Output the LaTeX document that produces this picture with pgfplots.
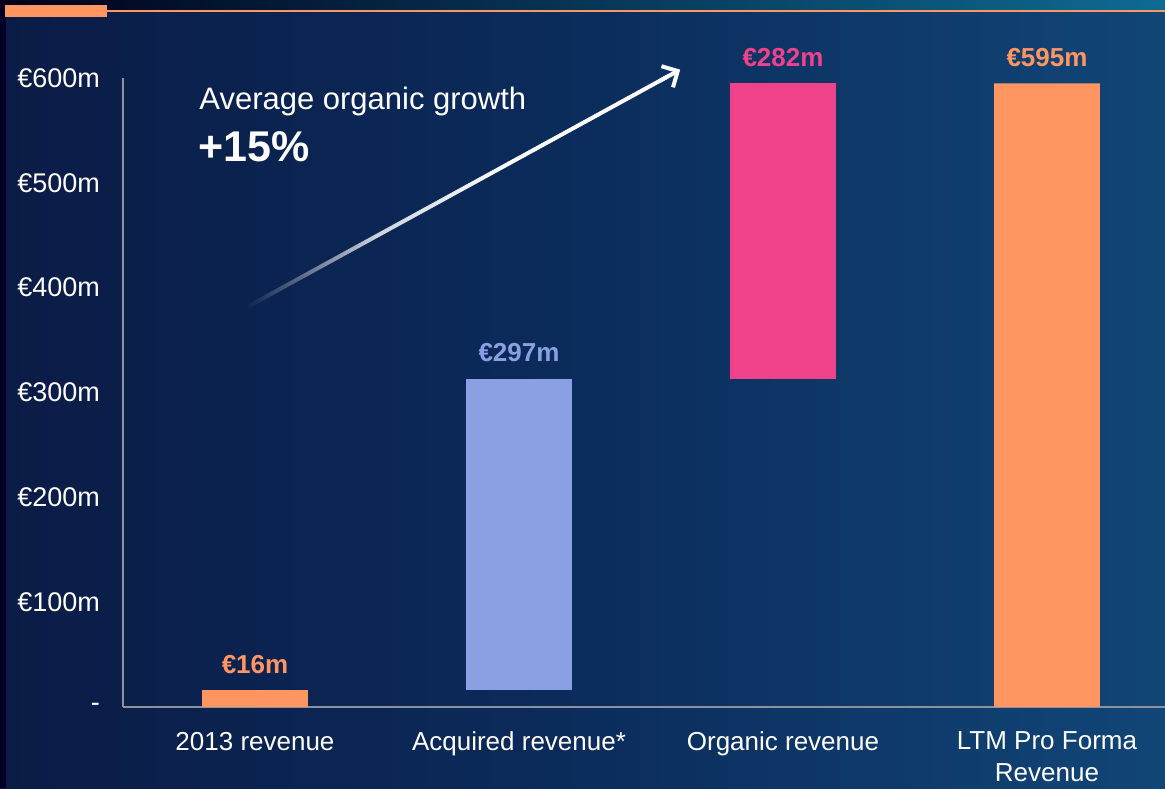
\documentclass[border=0pt]{standalone}
\usepackage{pgfplots}
\pgfplotsset{compat=1.18}
\usepackage{fontspec}
\setmainfont{Liberation Sans}
\usetikzlibrary{arrows.meta,calc}
\definecolor{barorange}{HTML}{FF9662}
\definecolor{barblue}{HTML}{8BA0E2}
\definecolor{barpink}{HTML}{F0428A}
\definecolor{bgleft}{HTML}{0B1B46}
\definecolor{bgmid}{HTML}{0B2C5C}
\definecolor{bgright}{HTML}{114677}
\definecolor{axisgray}{HTML}{8C929C}
\definecolor{tailbg}{HTML}{0C2350}
\begin{document}
\begin{tikzpicture}
\path[use as bounding box] (0,0) rectangle (582.5pt,394pt);
\clip (0,0) rectangle (582.5pt,394pt);
% background
\fill[left color=bgleft, right color=bgright, middle color=bgmid] (0,0) rectangle (582.5pt,394pt);
\fill[left color=black!90!blue, right color=bgright!80!cyan] (0,388.5pt) rectangle (582.5pt,394pt);
\fill[black!85!blue] (0,0) rectangle (3pt,388.5pt);
\draw[barorange, line width=0.6pt] (53pt,388.5pt) -- (582.5pt,388.5pt);
\fill[barorange] (2.5pt,385.5pt) rectangle (53.5pt,391.5pt);
% arrow (gradient shaft)
\begin{scope}[shift={(123.5pt,240.5pt)}, rotate=28.72]
  \shade[left color=tailbg, right color=white, middle color=white!80!tailbg] (0,-1pt) rectangle (150pt,1pt);
  \fill[white] (149.5pt,-1pt) rectangle (240pt,1pt);
  \draw[white, line width=2pt, -{Straight Barb[length=6pt,width=12pt,line width=2pt]}] (235pt,0) -- (247pt,0);
\end{scope}
\node[white, anchor=west, inner sep=0pt, font=\fontsize{15.5}{18}\selectfont] at (99.5pt,343.5pt) {Average organic growth};
\node[white, anchor=west, inner sep=0pt, font=\fontsize{21.5}{25}\selectfont\bfseries] at (99pt,320.5pt) {+15\%};
\begin{axis}[
  at={(61.5pt,40.5pt)}, anchor=south west,
  scale only axis, width=521pt, height=314.5pt,
  xmin=-0.5, xmax=3.447, ymin=0, ymax=600,
  axis x line=bottom, axis y line=left,
  axis line style={-, axisgray, line width=0.6pt},
  major tick length=0pt,
  ytick={0,100,200,300,400,500,600},
  yticklabels={-,€100m,€200m,€300m,€400m,€500m,€600m},
  xtick={0,1,2,3},
  xticklabels={2013 revenue,Acquired revenue*,Organic revenue,{LTM Pro Forma\\Revenue}},
  yticklabel style={white, font=\fontsize{13.5}{16}\selectfont, xshift=-8pt},
  xticklabel style={white, font=\fontsize{13}{15.6}\selectfont, align=center, yshift=-9pt},
  ybar stacked, bar width=0.4,
  clip=false,
]
\addplot[draw=none, fill=none] coordinates {(0,0) (1,16) (2,313) (3,0)};
\addplot[draw=none, fill=barorange] coordinates {(0,16) (1,0) (2,0) (3,595)};
\addplot[draw=none, fill=barblue] coordinates {(0,0) (1,297) (2,0) (3,0)};
\addplot[draw=none, fill=barpink] coordinates {(0,0) (1,0) (2,282) (3,0)};
\node[barorange, font=\fontsize{13}{15}\selectfont\bfseries, yshift=13pt] at (axis cs:0,16) {€16m};
\node[barblue, font=\fontsize{13}{15}\selectfont\bfseries, yshift=13pt] at (axis cs:1,313) {€297m};
\node[barpink, font=\fontsize{13}{15}\selectfont\bfseries, yshift=13pt] at (axis cs:2,595) {€282m};
\node[barorange, font=\fontsize{13}{15}\selectfont\bfseries, yshift=13pt] at (axis cs:3,595) {€595m};
\end{axis}
\end{tikzpicture}
\end{document}
